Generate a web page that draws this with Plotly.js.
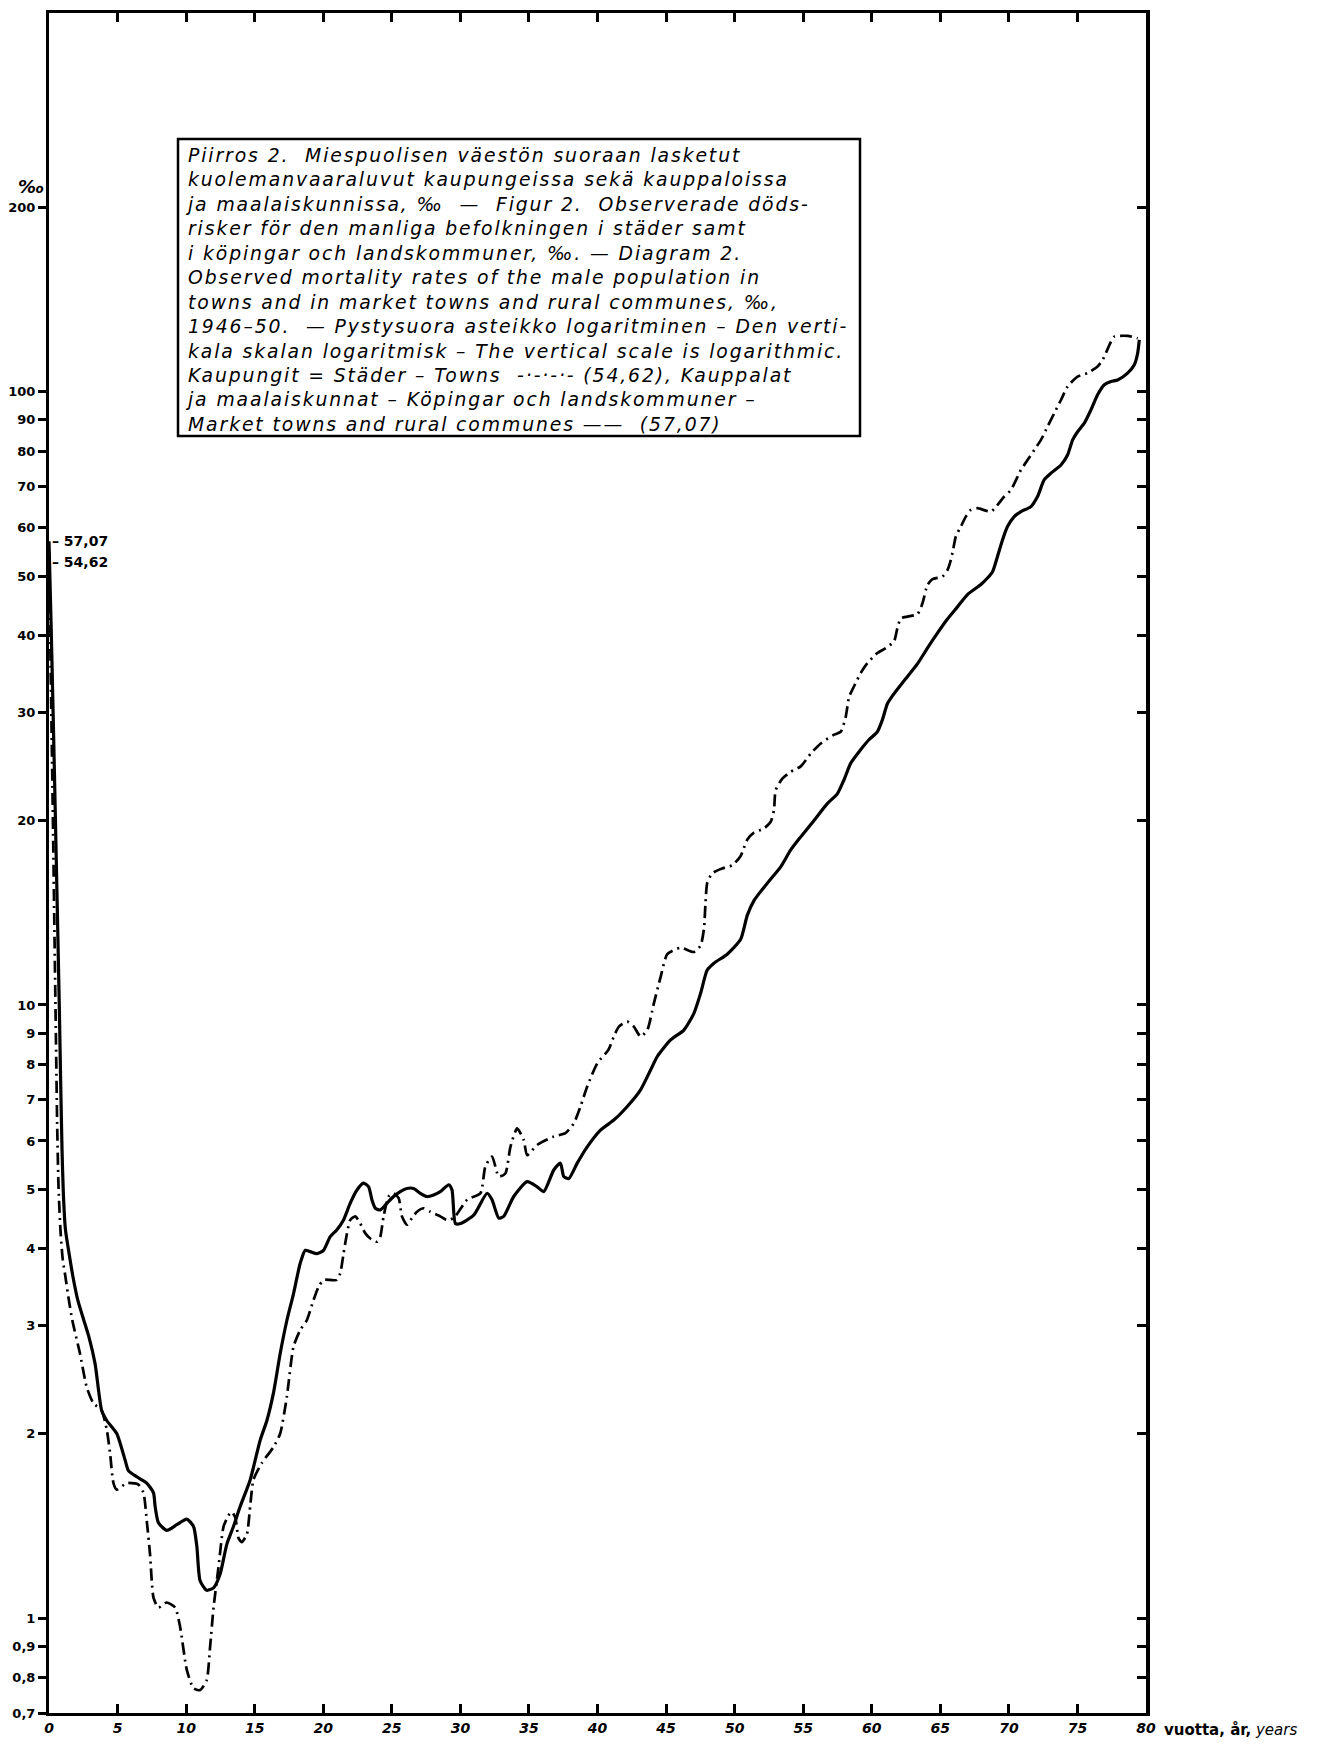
<!DOCTYPE html>
<html>
<head>
<meta charset="utf-8">
<script src="https://cdn.plot.ly/plotly-3.0.1.min.js"></script>
<style>html,body{margin:0;padding:0;background:#fff;}</style>
</head>
<body>
<div id="chart" style="width:1328px;height:1744px;"></div>
<script>
// Market towns and rural communes (solid line), ‰
const ruralAge = [0,0.15,0.3,0.45,0.6,0.75,0.85,0.95,1.05,1.2,1.45,1.75,2.1,2.5,2.9,3.36,3.84,4.21,4.94,5.55,5.79,6.4,7.13,7.62,7.74,7.98,8.59,9.32,10.05,10.54,10.78,11.02,11.5,12.0,12.48,12.97,13.45,13.94,14.67,15.4,15.89,16.37,16.86,17.35,17.83,18.32,18.69,19.05,19.54,20.02,20.51,21.0,21.48,21.97,22.46,22.94,23.31,23.55,23.8,24.16,24.65,25.13,25.62,26.1,26.59,27.08,27.57,28.05,28.54,29.15,29.39,29.64,30.0,30.97,31.95,32.31,32.8,33.16,33.89,34.87,35.6,36.08,36.81,37.3,37.54,37.91,38.52,39.25,40.22,41.19,42.17,43.14,43.87,44.36,45.33,46.3,47.03,47.52,48.0,48.49,49.46,50.44,50.92,51.41,52.38,53.36,54.09,54.82,55.79,56.76,57.49,57.98,58.47,59.2,59.81,60.41,60.78,61.14,61.63,62.36,63.33,64.06,64.79,65.52,66.25,66.98,67.96,68.44,68.81,69.17,69.54,69.9,70.39,70.88,71.61,72.09,72.58,73.07,73.8,74.28,74.65,75.01,75.5,75.99,76.47,76.96,77.45,77.93,78.66,79.15,79.39,79.51];
const ruralRate = [57.07,42,30,21,14.5,10,7.5,5.8,4.9,4.3,3.95,3.6,3.3,3.08,2.88,2.6,2.18,2.1,2.0,1.81,1.74,1.7,1.66,1.6,1.52,1.43,1.39,1.42,1.45,1.41,1.31,1.15,1.11,1.12,1.18,1.32,1.41,1.52,1.68,1.95,2.1,2.33,2.7,3.06,3.38,3.79,3.98,3.96,3.93,3.98,4.19,4.3,4.46,4.75,4.99,5.12,5.05,4.81,4.66,4.63,4.75,4.87,4.96,5.02,5.02,4.93,4.87,4.9,4.96,5.09,4.99,4.4,4.4,4.54,4.93,4.81,4.49,4.52,4.87,5.15,5.05,4.96,5.38,5.52,5.25,5.21,5.52,5.87,6.25,6.49,6.83,7.27,7.83,8.24,8.77,9.1,9.69,10.45,11.4,11.7,12.1,12.8,14.0,14.8,15.8,16.8,17.9,18.8,20.0,21.3,22.1,23.3,24.8,26.1,27.1,27.9,29.2,31.0,32.2,33.8,36.0,38.2,40.4,42.6,44.6,46.7,48.5,49.7,50.9,53.9,57.4,60.3,62.6,63.8,65.0,67.5,71.9,73.7,76.0,78.9,83.5,86.1,88.9,93.5,98.9,102.7,104.0,104.6,107.3,110.7,115.6,121.6];

// Towns (dash-dot line), ‰
const townAge = [0,0.1,0.2,0.3,0.4,0.5,0.6,0.7,0.85,1.0,1.2,1.45,1.7,2.26,2.75,3.24,3.84,4.21,4.45,4.7,4.94,5.67,6.52,6.89,7.13,7.37,7.62,7.98,8.59,9.2,9.56,10.05,10.54,11.02,11.5,11.75,12.0,12.36,12.73,13.09,13.33,13.58,13.82,14.06,14.43,14.67,14.91,15.52,16.37,16.86,17.35,17.83,18.32,18.8,19.29,19.66,20.02,20.51,21.0,21.24,21.48,21.73,21.97,22.34,22.7,23.07,23.43,23.92,24.16,24.4,24.77,25.13,25.5,25.74,26.1,26.47,26.84,27.32,27.81,28.54,29.03,29.51,30.49,31.46,31.82,32.31,32.8,33.28,33.65,34.14,34.62,34.87,35.6,36.81,37.66,38.27,38.76,39.25,39.98,40.8,41.19,41.56,42.17,42.65,43.14,43.63,44.11,44.6,45.09,46.06,47.03,47.52,47.76,47.88,48.0,48.37,49.1,49.83,50.44,50.92,51.41,52.14,52.63,52.87,52.99,53.48,54.09,54.82,55.55,56.28,57.25,57.74,58.1,58.35,58.71,59.2,59.68,60.41,61.02,61.63,61.87,62.12,62.6,63.33,63.7,64.06,64.43,65.16,65.52,65.77,65.95,66.13,66.5,66.86,67.23,67.71,68.69,69.66,70.15,70.88,71.36,71.85,72.34,72.82,73.31,73.8,74.28,75.01,75.74,76.47,76.84,77.45,77.69,78.66,79.39];
const townRate = [54.62,38,27,19,13,9,6.3,5.0,4.24,3.85,3.6,3.3,3.06,2.7,2.38,2.24,2.18,2.03,1.86,1.66,1.62,1.66,1.65,1.6,1.44,1.27,1.08,1.04,1.06,1.04,0.968,0.823,0.768,0.763,0.792,0.898,1.04,1.21,1.41,1.47,1.49,1.46,1.35,1.33,1.37,1.52,1.68,1.79,1.9,2.0,2.3,2.77,2.95,3.06,3.3,3.47,3.56,3.56,3.56,3.65,3.93,4.24,4.46,4.52,4.4,4.24,4.16,4.11,4.19,4.52,4.87,4.93,4.84,4.52,4.38,4.49,4.6,4.66,4.6,4.52,4.46,4.49,4.81,4.93,5.45,5.66,5.25,5.31,5.87,6.29,6.02,5.69,5.91,6.1,6.18,6.41,6.83,7.36,8.03,8.45,8.88,9.22,9.39,9.22,8.88,9.1,10.06,11.1,12.1,12.4,12.2,12.5,13.3,14.7,15.8,16.4,16.7,16.9,17.5,18.6,19.1,19.4,19.9,20.8,22.4,23.4,24.0,24.5,25.7,26.7,27.6,27.9,29.5,31.8,33.1,34.8,36.1,37.5,38.2,39.2,41.2,42.7,43.0,43.4,45.2,48.4,49.5,50.0,51.2,53.2,55.5,58.1,60.3,62.6,64.2,64.6,63.8,67.5,69.2,74.6,77.4,80.4,83.5,87.8,92.3,97.0,102.0,105.9,107.3,110.0,112.8,120.8,123.1,123.4,122.3];

// Axis ticks
const xTickVals = [0,5,10,15,20,25,30,35,40,45,50,55,60,65,70,75,80];
const yTickVals = [0.7,0.8,0.9,1,2,3,4,5,6,7,8,9,10,20,30,40,50,60,70,80,90,100,200];
const yTickText = ['0,7','0,8','0,9','1','2','3','4','5','6','7','8','9','10','20','30','40','50','60','70','80','90','100','200'];

// Values at age 0 marked on the axis
const startLabels = ['– 57,07', '– 54,62'];
const startValues = [57.07, 54.62];

// Caption lines
const captionLines = [
  'Piirros 2.  Miespuolisen väestön suoraan lasketut',
  'kuolemanvaaraluvut kaupungeissa sekä kauppaloissa',
  'ja maalaiskunnissa, ‰  —  Figur 2.  Observerade döds-',
  'risker för den manliga befolkningen i städer samt',
  'i köpingar och landskommuner, ‰. — Diagram 2.',
  'Observed mortality rates of the male population in',
  'towns and in market towns and rural communes, ‰,',
  '1946–50.  — Pystysuora asteikko logaritminen – Den verti-',
  'kala skalan logaritmisk – The vertical scale is logarithmic.',
  'Kaupungit = Städer – Towns  -·-·-·- (54,62), Kauppalat',
  'ja maalaiskunnat – Köpingar och landskommuner –',
  'Market towns and rural communes ——  (57,07)'
];
const unitLabel = '‰';
const xAxisLabel = '<b>vuotta, år,</b> <i>years</i>';

const H = 1744, T = 13, B = 31, PH = H - T - B;
const yr = [Math.log10(0.7), 2.618];

const traces = [
  {x: townAge, y: townRate, mode: 'lines', name: 'Towns',
   line: {color: '#000', width: 2.7, dash: '12px,5px,2px,5px', shape: 'spline', smoothing: 0.6},
   hoverinfo: 'skip'},
  {x: ruralAge, y: ruralRate, mode: 'lines', name: 'Market towns and rural communes',
   line: {color: '#000', width: 3.2, shape: 'spline', smoothing: 0.6},
   hoverinfo: 'skip'},
  {x: [40], y: [10], yaxis: 'y2', mode: 'markers', marker: {opacity: 0}, hoverinfo: 'skip', showlegend: false}
];

const annotations = [];
// caption as one text block
annotations.push({
  xref: 'paper', yref: 'paper', x: (184 - 49) / 1097, xanchor: 'left',
  y: (H - B - 144) / PH, yanchor: 'top', align: 'left',
  text: captionLines.join('<br>'), showarrow: false, borderpad: 0,
  font: {family: 'DejaVu Sans', size: 18.8, style: 'italic', color: '#000'}
});
startLabels.forEach((t, i) => {
  annotations.push({
    xref: 'paper', yref: 'y', x: 0, xanchor: 'left', xshift: 1,
    y: Math.log10(startValues[i]), yanchor: 'middle', yshift: i === 0 ? 0 : -9,
    text: t, showarrow: false,
    font: {family: 'DejaVu Sans', size: 14, weight: 'bold', color: '#000'}
  });
});
annotations.push({
  xref: 'paper', yref: 'paper', x: 0, xanchor: 'right', xshift: -3,
  y: (H - B - 186) / PH, yanchor: 'middle', text: unitLabel, showarrow: false,
  font: {family: 'DejaVu Sans', size: 18, weight: 'bold', style: 'italic', color: '#000'}
});
annotations.push({
  xref: 'paper', yref: 'paper', x: 1, xanchor: 'left', xshift: 16,
  y: 0, yanchor: 'top', yshift: -6, text: xAxisLabel, showarrow: false,
  font: {family: 'DejaVu Sans', size: 15, color: '#000'}
});

const layout = {
  width: 1328, height: 1744,
  margin: {l: 49, r: 182, t: T, b: B, pad: 0},
  paper_bgcolor: '#fff', plot_bgcolor: '#fff',
  showlegend: false,
  font: {family: 'DejaVu Sans', color: '#000'},
  xaxis: {
    range: [0, 80], tickvals: xTickVals, ticktext: xTickVals.map(String),
    ticks: 'inside', ticklen: 9, tickwidth: 3, tickcolor: '#000',
    mirror: 'ticks', showline: true, linewidth: 3, linecolor: '#000',
    showgrid: false, zeroline: false,
    tickfont: {size: 14, weight: 'bold', style: 'italic'}
  },
  yaxis: {
    type: 'log', range: yr, tickvals: yTickVals, ticktext: yTickText,
    ticks: 'outside', ticklen: 8, tickwidth: 3, tickcolor: '#000',
    showline: true, linewidth: 3, linecolor: '#000',
    showgrid: false, zeroline: false,
    tickfont: {size: 13, weight: 'bold'}
  },
  yaxis2: {
    type: 'log', range: yr, overlaying: 'y', side: 'right',
    tickvals: yTickVals, showticklabels: false,
    ticks: 'inside', ticklen: 9, tickwidth: 3, tickcolor: '#000',
    showline: true, linewidth: 4, linecolor: '#000',
    showgrid: false, zeroline: false
  },
  shapes: [{
    type: 'rect', xref: 'paper', yref: 'paper',
    x0: (178 - 49) / 1097, x1: (860 - 49) / 1097,
    y0: (H - B - 436) / PH, y1: (H - B - 139) / PH,
    line: {color: '#000', width: 2.5}, fillcolor: 'rgba(0,0,0,0)'
  }],
  annotations: annotations
};

Plotly.newPlot('chart', traces, layout, {displayModeBar: false, staticPlot: true}).then(() => {
  // widen the hand-lettered caption a little, like the original lettering
  document.querySelectorAll('#chart .annotation-text').forEach(el => {
    if (el.textContent.indexOf('Piirros') === 0) {
      el.style.letterSpacing = '1.9px';
    }
  });
});
</script>
</body>
</html>
